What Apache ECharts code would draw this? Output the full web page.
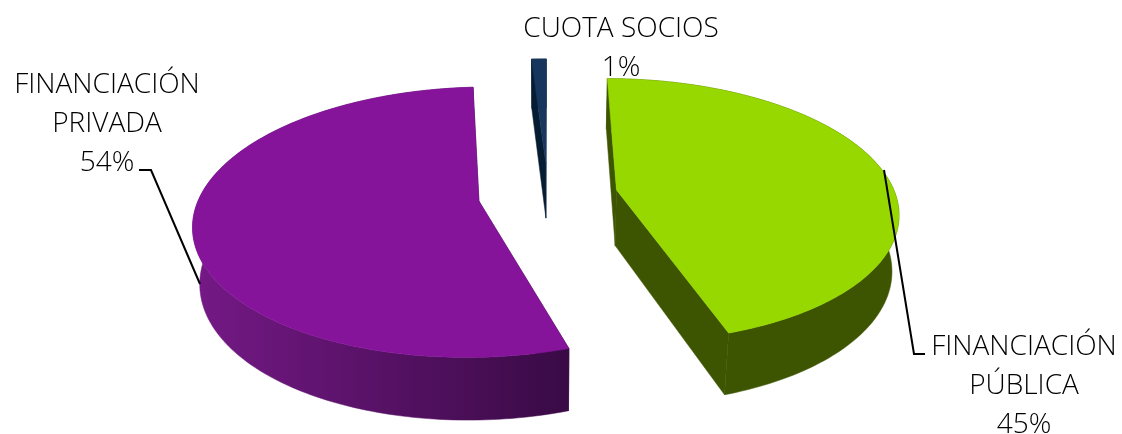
<!DOCTYPE html>
<html>
<head>
<meta charset="utf-8">
<style>
  html, body { margin: 0; padding: 0; background: #fff; }
  #chart { width: 1122px; height: 434px; }
</style>
<script src="https://cdn.jsdelivr.net/npm/echarts@6/dist/echarts.min.js"></script>
</head>
<body>
<div id="chart"></div>
<script>
// Data (clockwise from 12 o'clock)
const categories = ['FINANCIACIÓN\nPÚBLICA', 'FINANCIACIÓN\nPRIVADA', 'CUOTA SOCIOS'];
const shares = [45, 54, 1];

const topColors = ['#96d800', '#85149a', '#17365d'];
const rimColors = [['#3d5500', '#3d5500'], ['#751986', '#390a45'], ['#061c33', '#061c33']];

// Camera for the tilted pie: disc radius is 1, z goes down through the slice
const view = { cx: 548, cy: 195, rx: 279, a: 130, b: 0.155, c: 0.02, d: 57 };
const explode = 0.25;
const total = shares.reduce((s, v) => s + v, 0);

function project(u, v, z) {
    const w = 1 - view.b * v + view.c * z;
    return [view.cx + view.rx * u / w, view.cy + (view.a * v + view.d * z) / w];
}

function arcPoints(from, to, ox, oy, z) {
    const pts = [];
    const steps = Math.max(2, Math.ceil((to - from) / 0.02));
    for (let i = 0; i <= steps; i++) {
        const t = from + (to - from) * i / steps;
        pts.push(project(ox + Math.sin(t), oy - Math.cos(t), z));
    }
    return pts;
}

function renderSlice(params, api) {
    const i = params.dataIndex;
    let before = 0;
    for (let k = 0; k < i; k++) before += shares[k];
    const from = before / total * Math.PI * 2;
    const to = (before + api.value(0)) / total * Math.PI * 2;
    const mid = (from + to) / 2;
    const ox = Math.sin(mid) * explode;
    const oy = -Math.cos(mid) * explode;

    const topArc = arcPoints(from, to, ox, oy, 0);
    const lowArc = arcPoints(from, to, ox, oy, 1);
    const apexTop = project(ox, oy, 0);
    const apexLow = project(ox, oy, 1);
    const rim = new echarts.graphic.LinearGradient(0, 0, 1, 0, [
        { offset: 0, color: rimColors[i][0] },
        { offset: 1, color: rimColors[i][1] }
    ]);
    const wall = rimColors[i][1];
    const poly = (points, fill) => ({
        type: 'polygon',
        shape: { points: points },
        style: { fill: fill, stroke: fill, lineWidth: 0.5 }
    });

    return {
        type: 'group',
        children: [
            poly([apexTop, topArc[0], lowArc[0], apexLow], wall),
            poly([apexTop, topArc[topArc.length - 1], lowArc[lowArc.length - 1], apexLow], wall),
            poly(topArc.concat(lowArc.slice().reverse()), rim),
            poly([apexTop].concat(topArc), topColors[i])
        ]
    };
}

const labelFont = { fontFamily: '"Open Sans", sans-serif', fontWeight: 300, fontSize: 28, lineHeight: 39, fill: '#000', align: 'center', verticalAlign: 'middle' };
const labelText = i => categories[i] + '\n' + shares[i] + '%';

const chart = echarts.init(document.getElementById('chart'), null, { renderer: 'canvas' });
chart.setOption({
    animation: false,
    backgroundColor: '#fff',
    series: [{
        type: 'custom',
        coordinateSystem: 'none',
        renderItem: renderSlice,
        data: shares.map(v => [v])
    }],
    graphic: [
        { type: 'text', z: 100, x: 107, y: 124, style: Object.assign({ text: labelText(1) }, labelFont) },
        { type: 'text', z: 100, x: 1024, y: 386, style: Object.assign({ text: labelText(0) }, labelFont) },
        { type: 'text', z: 100, x: 621, y: 49, style: Object.assign({ text: labelText(2) }, labelFont) },
        { type: 'polyline', z: 100, shape: { points: [[139, 170], [151, 170], [200, 284]] }, style: { stroke: '#000', lineWidth: 2, fill: null } },
        { type: 'polyline', z: 100, shape: { points: [[884, 170], [914, 354], [925, 354]] }, style: { stroke: '#000', lineWidth: 2, fill: null } }
    ]
});
</script>
</body>
</html>
